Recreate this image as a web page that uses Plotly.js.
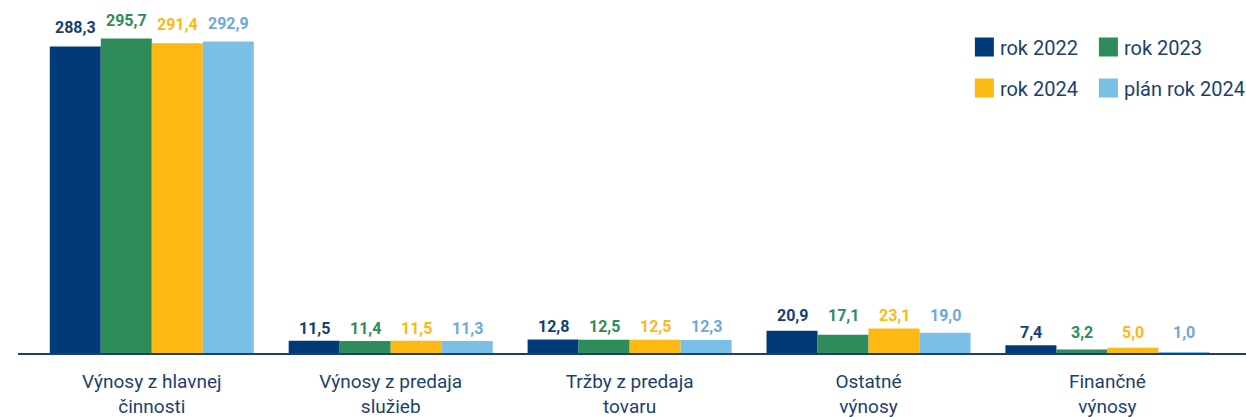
<!DOCTYPE html>
<html><head><meta charset="utf-8">
<script src="https://cdn.plot.ly/plotly-3.0.1.min.js"></script>
<style>html,body{margin:0;padding:0;background:#fff}</style>
</head><body>
<div id="chart" style="width:1246px;height:417px"></div>
<script>
const categories = ["Výnosy z hlavnej<br>činnosti","Výnosy z predaja<br>služieb","Tržby z predaja<br>tovaru","Ostatné<br>výnosy","Finančné<br>výnosy"];
const seriesNames = ["rok 2022","rok 2023","rok 2024","plán rok 2024"];
const rok2022 = [288.3, 11.5, 12.8, 20.9, 7.4];
const rok2023 = [295.7, 11.4, 12.5, 17.1, 3.2];
const rok2024 = [291.4, 11.5, 12.5, 23.1, 5.0];
const plan2024 = [292.9, 11.3, 12.3, 19.0, 1.0];

const values = [rok2022, rok2023, rok2024, plan2024];
const barColors = ["#003a78", "#2e8b5a", "#fdb913", "#7bbfe6"];
const labelColors = ["#143f73", "#2e8b5a", "#fdb913", "#6fa8dc"];
const navy = "#1c3f72";
const FONT = "Roboto, 'Liberation Sans', sans-serif";
const legendIds = ["legend", "legend2", "legend3", "legend4"];

const traces = values.map((v, i) => ({
  type: "bar",
  name: seriesNames[i],
  x: categories,
  y: v,
  marker: {color: barColors[i], line: {width: 0}},
  legend: legendIds[i],
  hoverinfo: "skip"
}));

const fmt = n => n.toFixed(1).replace(".", ",");
const annotations = [];
categories.forEach((c, ci) => {
  const groupVals = values.map(v => v[ci]);
  const gmax = Math.max(...groupVals);
  const big = gmax > 100;
  values.forEach((v, si) => {
    const off = (si - 1.5) * 0.2135;
    annotations.push({
      x: ci + off, xref: "x", y: big ? v[ci] : gmax, yref: "y",
      text: "<b>" + fmt(v[ci]) + "</b>",
      showarrow: false, yanchor: "bottom", yshift: big ? 7 : 1,
      font: {family: FONT, size: 16, color: labelColors[si]}
    });
  });
});

const legendCommon = {orientation: "v", xanchor: "left", yanchor: "middle",
  bgcolor: "rgba(0,0,0,0)", font: {family: FONT, size: 20, color: navy}};
const legX = [0.767, 0.868, 0.767, 0.868];
const legY = [0.867, 0.867, 0.751, 0.751];

const layout = {
  width: 1246, height: 417,
  margin: {l: 18, r: 0, t: 0, b: 64, autoexpand: false},
  paper_bgcolor: "#fff", plot_bgcolor: "#fff",
  barmode: "group", bargap: 0.146, bargroupgap: 0,
  font: {family: FONT, color: navy},
  xaxis: {
    type: "category", range: [-0.56, 4.58],
    showline: true, linecolor: navy, linewidth: 1.5,
    ticks: "", showgrid: false, zeroline: false,
    tickfont: {family: FONT, size: 19, color: navy},
    ticklabelstandoff: 11
  },
  yaxis: {range: [0, 332], visible: false, showgrid: false, zeroline: false},
  showlegend: true,
  annotations: annotations
};
legendIds.forEach((id, i) => {
  layout[id] = Object.assign({}, legendCommon, {x: legX[i], y: legY[i]});
});

Plotly.newPlot("chart", traces, layout, {staticPlot: true, displayModeBar: false}).then(gd => {
  gd.querySelectorAll(".legendpoints path").forEach(p => {
    p.setAttribute("d", "M9.5,9.5H-9.5V-9.5H9.5Z");
    p.setAttribute("transform", "translate(24.5,0)");
  });
});
</script>
</body></html>
